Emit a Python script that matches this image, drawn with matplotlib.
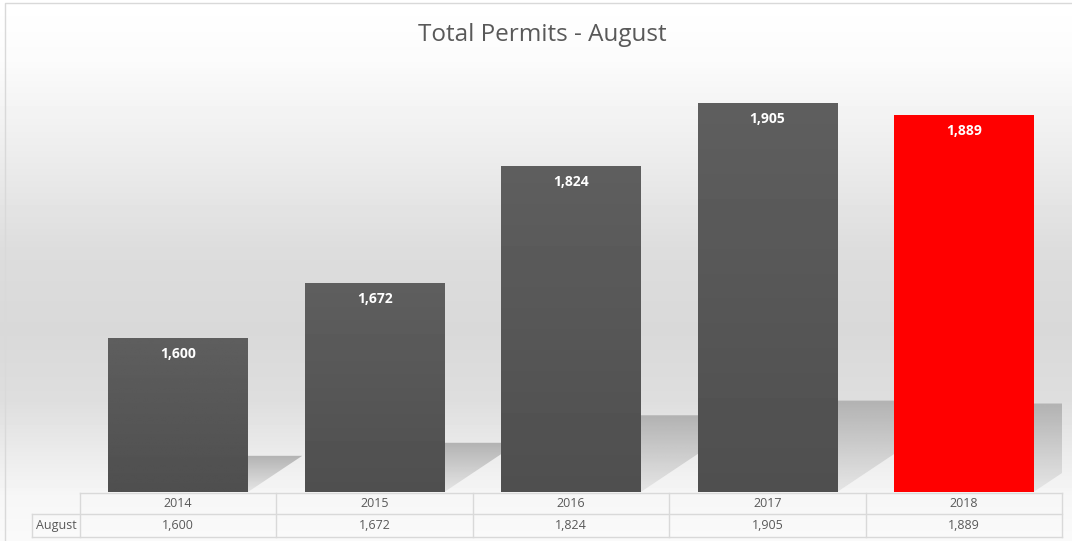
import numpy as np
import matplotlib as mpl
mpl.use("Agg")
import matplotlib.pyplot as plt
from matplotlib.patches import Polygon

plt.rcParams["font.family"] = ["Open Sans", "DejaVu Sans"]

# data
years = ["2014", "2015", "2016", "2017", "2018"]
permits = [1600, 1672, 1824, 1905, 1889]
row_label = "August"
title = "Total Permits - August"
highlight = "2018"

W, H = 1072, 541
L, R, B, T = 80, 1062, 492, 30      # plot area in pixels
Y0, Y1 = 1400, 2000
BW = 0.71
TXT = "#595959"
GRID = "#d9d9d9"

fig = plt.figure(figsize=(W / 100, H / 100), dpi=100)

# background gradient (white -> light gray -> white)
bg = fig.add_axes([0, 0, 1, 1], zorder=0)
stops_y = [0, 60, 150, 250, 330, 400, 460, 495, 541]
stops_v = [1.0, 0.985, 0.93, 0.865, 0.85, 0.87, 0.93, 0.965, 0.98]
col = np.interp(np.arange(H), stops_y, stops_v)
bg.imshow(np.repeat(col[:, None], 8, axis=1), cmap="gray", vmin=0, vmax=1,
          extent=(0, W, H, 0), aspect="auto", interpolation="nearest")
bg.set_xlim(0, W); bg.set_ylim(H, 0); bg.axis("off")

# bars
ax = fig.add_axes([L / W, 1 - B / H, (R - L) / W, (B - T) / H], zorder=1)
ax.patch.set_alpha(0)
x = np.arange(len(years))
ppx = (R - L) / len(years)
ppy = (B - T) / (Y1 - Y0)

# perspective shadows behind bars
for i, v in enumerate(permits):
    x0, x1 = i - BW / 2, i + BW / 2
    sh = 0.235 * (v - Y0)
    dx = 1.5 * sh * ppy / ppx
    poly = Polygon([(x0, Y0), (x1, Y0), (x1 + dx, Y0 + sh), (x0 + dx, Y0 + sh)],
                   closed=True, fc="none", ec="none")
    ax.add_patch(poly)
    grad = np.linspace(0.70, 0.90, 60)[:, None]
    im = ax.imshow(grad, cmap="gray", vmin=0, vmax=1, extent=(x0, x1 + dx, Y0, Y0 + sh),
                   aspect="auto", interpolation="bilinear", zorder=1)
    im.set_clip_path(poly)

colors = ["#ff0000" if y == highlight else "#565656" for y in years]
bars = ax.bar(x, permits, width=BW, color=colors, zorder=2)
for b, y, v in zip(bars, years, permits):
    if y != highlight:
        grad = np.linspace(0.37, 0.31, 60)[:, None]
        im = ax.imshow(grad, cmap="gray", vmin=0, vmax=1,
                       extent=(b.get_x(), b.get_x() + b.get_width(), Y0, v),
                       aspect="auto", interpolation="bilinear", zorder=3)
        im.set_clip_path(b)
    ax.annotate(f"{v:,}", (b.get_x() + b.get_width() / 2, v), xytext=(0, -16),
                textcoords="offset pixels", ha="center", va="center",
                color="white", fontsize=10, fontweight="bold", zorder=4)
ax.set_xlim(-0.5, len(years) - 0.5)
ax.set_ylim(Y0, Y1)
ax.axis("off")

# overlay: title, border, data table
ov = fig.add_axes([0, 0, 1, 1], zorder=2)
ov.patch.set_alpha(0)
ov.set_xlim(0, W); ov.set_ylim(H, 0); ov.axis("off")

ov.plot([5, 5, W], [H, 3, 3], color=GRID, lw=1)
ov.text(542, 35, title, ha="center", va="center", fontsize=17.5, color=TXT)

r0, r1, r2 = 493, 514, 537
ov.plot([L, R], [r0, r0], color=GRID, lw=1)
ov.plot([32, R], [r1, r1], color=GRID, lw=1)
ov.plot([32, R], [r2, r2], color=GRID, lw=1)
ov.plot([32, 32], [r1, r2], color=GRID, lw=1)
for i in range(len(years) + 1):
    xc = L + i * ppx
    ov.plot([xc, xc], [r0, r2], color=GRID, lw=1)
ov.text(56, (r1 + r2) / 2, row_label, ha="center", va="center", fontsize=9, color=TXT)
for i, (y, v) in enumerate(zip(years, permits)):
    xc = L + (i + 0.5) * ppx
    ov.text(xc, (r0 + r1) / 2, y, ha="center", va="center", fontsize=9, color=TXT)
    ov.text(xc, (r1 + r2) / 2, f"{v:,}", ha="center", va="center", fontsize=9, color=TXT)

fig.savefig("out.png", dpi=100, facecolor="white")
